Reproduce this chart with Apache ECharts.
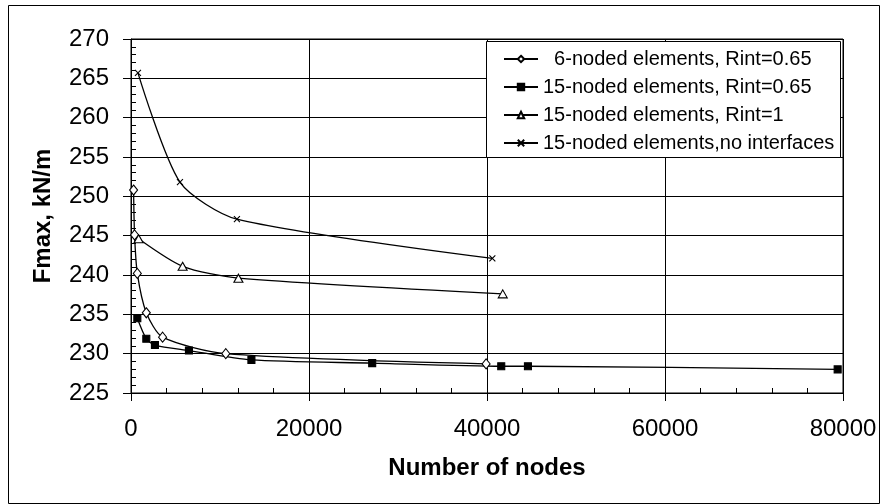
<!DOCTYPE html>
<html>
<head>
<meta charset="utf-8">
<script src="https://cdn.jsdelivr.net/npm/echarts@6/dist/echarts.min.js"></script>
<style>
html,body{margin:0;padding:0;background:#fff;}
#chart{width:880px;height:504px;}
</style>
</head>
<body>
<div id="chart"></div>
<script>
// ---- data ----
var seriesNames = [
  '  6-noded elements, Rint=0.65',
  '15-noded elements, Rint=0.65',
  '15-noded elements, Rint=1',
  '15-noded elements,no interfaces'
];
var nodes6 = [290, 400, 710, 1720, 3550, 10650, 39900];
var fmax6 = [250.8, 245.1, 240.2, 235.2, 232.1, 230.0, 228.7];

var nodes15 = [710, 1720, 2690, 6510, 13530, 27100, 41600, 44600, 79400];
var fmax15 = [234.5, 231.9, 231.1, 230.4, 229.2, 228.8, 228.4, 228.4, 228.0];

var nodes15r1 = [855, 5800, 12070, 41770];
var fmax15r1 = [244.6, 241.1, 239.6, 237.6];

var nodes15ni = [780, 5500, 11900, 40600];
var fmax15ni = [265.7, 251.8, 247.1, 242.1];

var xTicks = {min: 0, max: 80000, interval: 20000};
var yTicks = {min: 225, max: 270, interval: 5};
var xTitle = 'Number of nodes';
var yTitle = 'Fmax, kN/m';

function pairs(xs, ys) {
  var out = [];
  for (var i = 0; i < xs.length; i++) out.push([xs[i], ys[i]]);
  return out;
}

var FONT = "'Liberation Sans', Arial, sans-serif";
var chart = echarts.init(document.getElementById('chart'), null, {renderer: 'canvas'});

function lineSeries(name, data, symbol, size, fill) {
  return {
    name: name,
    type: 'line',
    data: data,
    smooth: 0.25,
    symbol: symbol,
    symbolSize: size,
    showAllSymbol: true,
    lineStyle: {color: '#000', width: 1.3},
    itemStyle: {color: fill, borderColor: '#000', borderWidth: 1.1},
    emphasis: {disabled: true},
    z: 2
  };
}

var option = {
  animation: false,
  backgroundColor: '#fff',
  grid: {
    left: 131, right: 37, top: 39, bottom: 111,
    show: true, borderColor: '#000', borderWidth: 1, backgroundColor: 'transparent'
  },
  xAxis: {
    type: 'value',
    min: xTicks.min, max: xTicks.max, interval: xTicks.interval,
    name: xTitle,
    nameLocation: 'middle',
    nameGap: 63,
    nameTextStyle: {fontFamily: FONT, fontSize: 24, fontWeight: 'bold', color: '#000'},
    axisLine: {show: true, onZero: false, lineStyle: {color: '#000', width: 1}},
    axisTick: {show: true, length: 8, lineStyle: {color: '#000', width: 1}},
    minorTick: {show: true, splitNumber: 5, length: -5, lineStyle: {color: '#000', width: 1}},
    axisLabel: {fontFamily: FONT, fontSize: 24, color: '#000', margin: 24,
      formatter: function (v) { return String(v); }},
    splitLine: {show: true, lineStyle: {color: '#000', width: 1}}
  },
  yAxis: {
    type: 'value',
    min: yTicks.min, max: yTicks.max, interval: yTicks.interval,
    name: yTitle,
    nameLocation: 'middle',
    nameGap: 76,
    nameRotate: 90,
    nameTextStyle: {fontFamily: FONT, fontSize: 24, fontWeight: 'bold', color: '#000'},
    axisLine: {show: true, onZero: false, lineStyle: {color: '#000', width: 1}},
    axisTick: {show: true, length: 8, lineStyle: {color: '#000', width: 1}},
    minorTick: {show: true, splitNumber: 5, length: -5, lineStyle: {color: '#000', width: 1}},
    axisLabel: {fontFamily: FONT, fontSize: 24, color: '#000', margin: 22},
    splitLine: {show: true, lineStyle: {color: '#000', width: 1}}
  },
  legend: {
    orient: 'vertical',
    left: 503, top: 48,
    padding: 0,
    itemWidth: 34, itemHeight: 8, itemGap: 6,
    textStyle: {fontFamily: FONT, fontSize: 20, lineHeight: 22, color: '#000'},
    data: seriesNames,
    selectedMode: false,
    z: 5
  },
  graphic: [
    {type: 'rect', z: 4, silent: true,
     shape: {x: 486.5, y: 41.5, width: 354, height: 116},
     style: {fill: '#fff', stroke: '#000', lineWidth: 1}},
    {type: 'rect', z: 10, silent: true,
     shape: {x: 8.5, y: 5.5, width: 871, height: 498},
     style: {fill: 'none', stroke: '#000', lineWidth: 1}}
  ],
  series: [
    lineSeries(seriesNames[0], pairs(nodes6, fmax6), 'diamond', [8, 10], '#fff'),
    lineSeries(seriesNames[1], pairs(nodes15, fmax15), 'rect', 7, '#000'),
    lineSeries(seriesNames[2], pairs(nodes15r1, fmax15r1), 'triangle', [9, 8], '#fff'),
    lineSeries(seriesNames[3], pairs(nodes15ni, fmax15ni), 'path://M0,0L10,10M10,0L0,10', 6, '#000')
  ]
};
chart.setOption(option);
</script>
</body>
</html>
